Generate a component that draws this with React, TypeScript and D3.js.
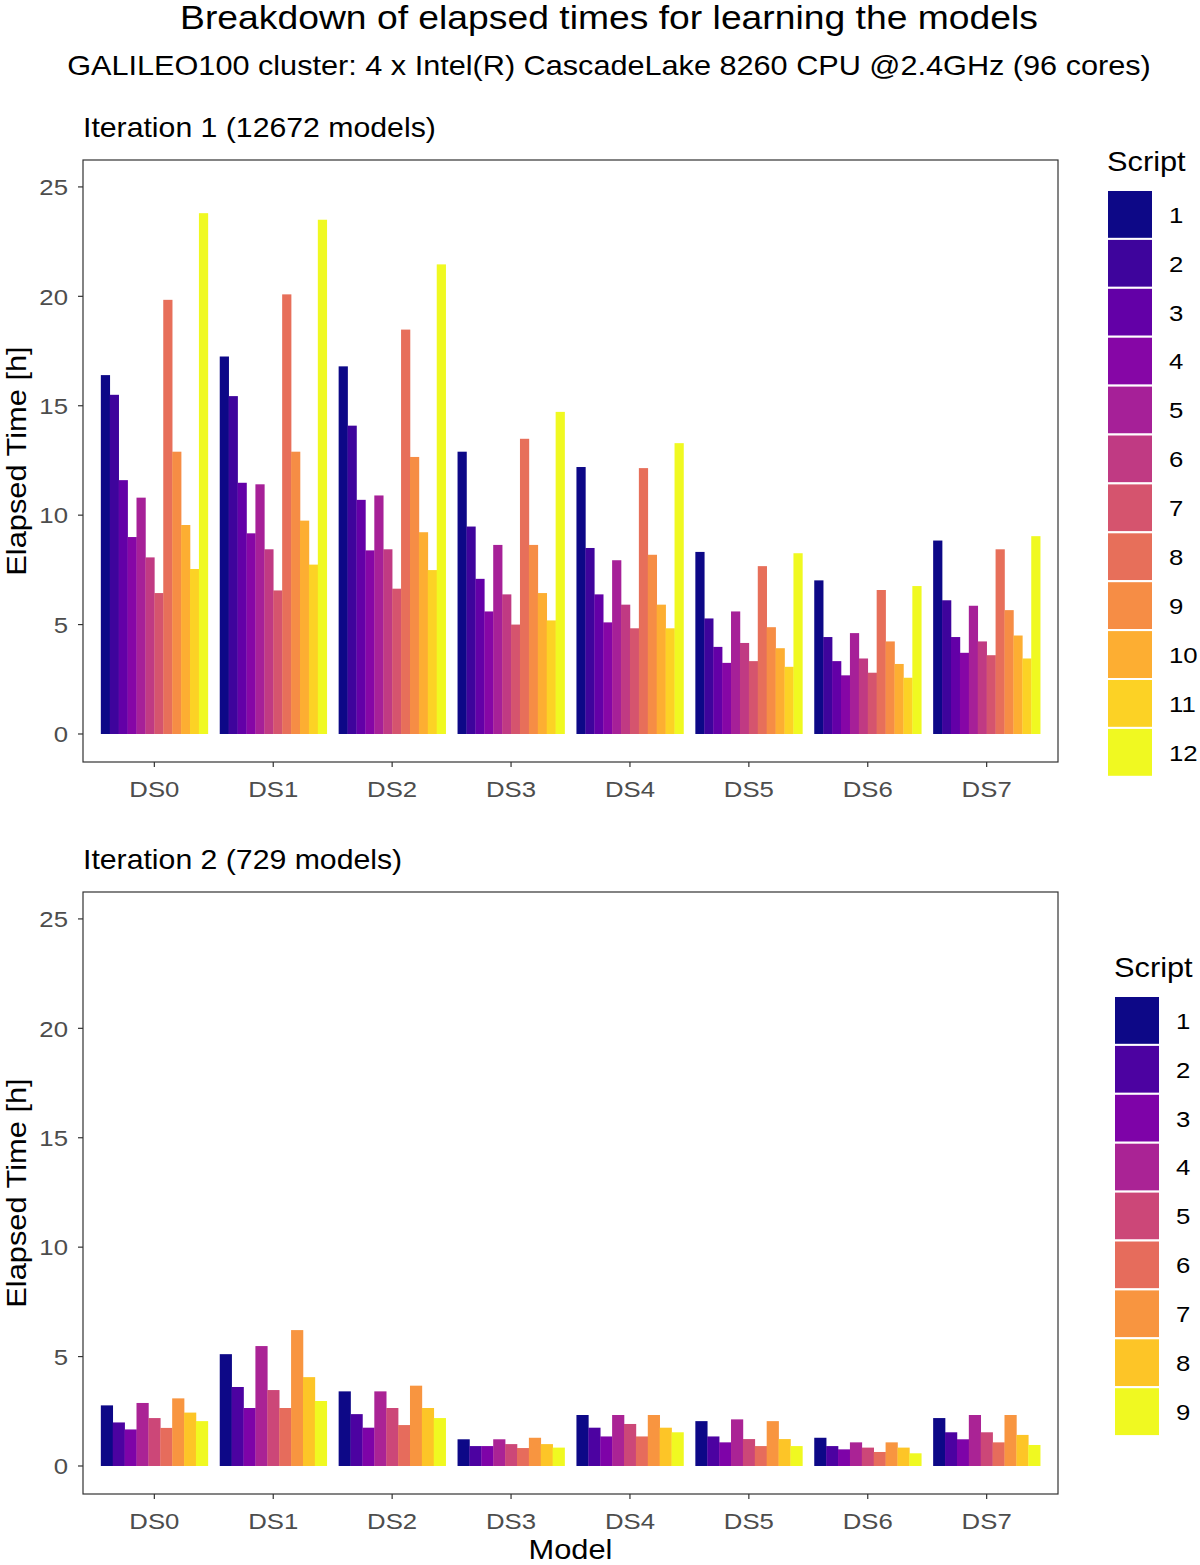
import React from 'react';
import * as d3 from 'd3';

const datasets = ['DS0', 'DS1', 'DS2', 'DS3', 'DS4', 'DS5', 'DS6', 'DS7'];

// Iteration 1: 12 scripts per dataset (hours)
const iter1Scripts = ['1', '2', '3', '4', '5', '6', '7', '8', '9', '10', '11', '12'];
const iter1DS0 = [16.4, 15.5, 11.6, 9.0, 10.8, 8.07, 6.44, 19.84, 12.9, 9.55, 7.54, 23.8];
const iter1DS1 = [17.25, 15.44, 11.48, 9.17, 11.41, 8.44, 6.56, 20.09, 12.9, 9.75, 7.74, 23.5];
const iter1DS2 = [16.8, 14.09, 10.7, 8.39, 10.9, 8.44, 6.64, 18.48, 12.66, 9.22, 7.49, 21.46];
const iter1DS3 = [12.9, 9.48, 7.09, 5.6, 8.64, 6.38, 5.0, 13.49, 8.64, 6.44, 5.19, 14.72];
const iter1DS4 = [12.2, 8.5, 6.38, 5.1, 7.94, 5.91, 4.83, 12.15, 8.19, 5.91, 4.83, 13.29];
const iter1DS5 = [8.32, 5.28, 3.98, 3.25, 5.6, 4.16, 3.33, 7.67, 4.88, 3.92, 3.07, 8.26];
const iter1DS6 = [7.02, 4.43, 3.33, 2.68, 4.61, 3.45, 2.8, 6.58, 4.23, 3.2, 2.57, 6.76];
const iter1DS7 = [8.84, 6.11, 4.43, 3.71, 5.86, 4.23, 3.6, 8.44, 5.66, 4.5, 3.45, 9.04];

// Iteration 2: 9 scripts per dataset (hours)
const iter2Scripts = ['1', '2', '3', '4', '5', '6', '7', '8', '9'];
const iter2DS0 = [2.77, 1.99, 1.67, 2.88, 2.19, 1.74, 3.09, 2.44, 2.05];
const iter2DS1 = [5.11, 3.61, 2.65, 5.48, 3.47, 2.65, 6.21, 4.06, 2.97];
const iter2DS2 = [3.41, 2.37, 1.75, 3.41, 2.65, 1.87, 3.67, 2.65, 2.19];
const iter2DS3 = [1.22, 0.91, 0.91, 1.22, 1.0, 0.82, 1.29, 1.0, 0.84];
const iter2DS4 = [2.33, 1.75, 1.35, 2.33, 1.92, 1.35, 2.33, 1.75, 1.54];
const iter2DS5 = [2.05, 1.35, 1.08, 2.13, 1.23, 0.91, 2.05, 1.23, 0.91];
const iter2DS6 = [1.29, 0.91, 0.76, 1.08, 0.84, 0.64, 1.08, 0.84, 0.58];
const iter2DS7 = [2.19, 1.54, 1.22, 2.33, 1.54, 1.08, 2.33, 1.42, 0.96];

const yTicks = [0, 5, 10, 15, 20, 25];

const iter1Values = [iter1DS0, iter1DS1, iter1DS2, iter1DS3, iter1DS4, iter1DS5, iter1DS6, iter1DS7];
const iter2Values = [iter2DS0, iter2DS1, iter2DS2, iter2DS3, iter2DS4, iter2DS5, iter2DS6, iter2DS7];

const FONT = '"Liberation Sans", Arial, Helvetica, sans-serif';
const SX = 1.12; // reference glyphs are a bit wider than Liberation Sans

// text that is stretched horizontally around its anchor point
const Txt: React.FC<{
  x: number; y: number; size: number; anchor?: string; fill?: string;
  rotate?: number; sx?: number; dy?: string; children: React.ReactNode;
}> = ({ x, y, size, anchor = 'start', fill = '#000', rotate = 0, sx = SX, dy, children }) => (
  <g transform={`translate(${x}, ${y}) rotate(${rotate}) scale(${sx}, 1)`}>
    <text textAnchor={anchor} fontSize={size} fill={fill} dy={dy}>{children}</text>
  </g>
);

interface PanelProps {
  top: number;
  title: string;
  scripts: string[];
  values: number[][];
  legendX: number;
  legendTitleY: number;
  legendKeysY: number;
  showXLabel?: boolean;
}

const Panel: React.FC<PanelProps> = ({ top, title, scripts, values, legendX, legendTitleY, legendKeysY, showXLabel }) => {
  const left = 83;
  const width = 975;
  const height = 602;

  const x = d3.scalePoint<string>().domain(datasets).range([0, width]).padding(0.6);
  const step = x.step();
  const groupW = step * 0.9;
  const inner = d3.scaleBand<string>().domain(scripts).range([0, groupW]);
  const y = d3.scaleLinear().domain([-1.28, 26.23]).range([height, 0]);
  const color = d3.scaleOrdinal<string, string>()
    .domain(scripts)
    .range(scripts.map((_, i) => d3.interpolatePlasma(i / (scripts.length - 1))));

  const keyH = 48.9;
  const keyW = 46;

  return (
    <g>
      <Txt x={left} y={top - 23} size={28} sx={1.08}>{title}</Txt>
      <g transform={`translate(${left}, ${top})`}>
        {/* Bars */}
        {values.map((row, gi) => (
          <g key={gi} transform={`translate(${(x(datasets[gi]) || 0) - groupW / 2}, 0)`}>
            {row.map((v, si) => (
              <rect
                key={si}
                x={inner(scripts[si])}
                y={y(v)}
                width={inner.bandwidth() + 0.3}
                height={y(0) - y(v)}
                fill={color(scripts[si])}
              />
            ))}
          </g>
        ))}

        {/* Panel border */}
        <rect x={0} y={0} width={width} height={height} fill="none" stroke="#333" strokeWidth={1.2} />

        {/* Y axis */}
        {yTicks.map(t => (
          <g key={t}>
            <line x1={-5} x2={0} y1={y(t)} y2={y(t)} stroke="#333" strokeWidth={1.2} />
            <Txt x={-15} y={y(t)} dy="0.36em" anchor="end" size={23} fill="#4D4D4D">{t}</Txt>
          </g>
        ))}

        {/* X axis */}
        {datasets.map(d => (
          <g key={d}>
            <line x1={x(d)} x2={x(d)} y1={height} y2={height + 5} stroke="#333" strokeWidth={1.2} />
            <Txt x={x(d) || 0} y={height + 35} anchor="middle" size={23} fill="#4D4D4D">{d}</Txt>
          </g>
        ))}

        <Txt x={-57} y={height / 2} rotate={-90} anchor="middle" size={28} sx={1.1}>
          Elapsed Time [h]
        </Txt>
        {showXLabel && (
          <Txt x={width / 2} y={height + 65} anchor="middle" size={28} sx={1.1}>Model</Txt>
        )}
      </g>

      {/* Legend */}
      <Txt x={legendX} y={legendTitleY} size={27} sx={1.14}>Script</Txt>
      {scripts.map((s, i) => (
        <g key={s} transform={`translate(${legendX}, ${legendKeysY + i * keyH})`}>
          <rect x={0} y={0} width={keyW} height={keyH} fill={color(s)} stroke="#fff" strokeWidth={2} />
          <Txt x={keyW + 16} y={keyH / 2} dy="0.36em" size={23}>{s}</Txt>
        </g>
      ))}
    </g>
  );
};

const App: React.FC = () => {
  return (
    <svg
      width={1200}
      height={1565}
      viewBox="0 0 1200 1565"
      style={{ position: 'absolute', left: 0, top: 0, background: '#fff', fontFamily: FONT }}
    >
      <rect width={1200} height={1565} fill="#fff" />
      <Txt x={609} y={29} anchor="middle" size={33} sx={1.13}>
        Breakdown of elapsed times for learning the models
      </Txt>
      <Txt x={609} y={75} anchor="middle" size={27} sx={1.135}>
        GALILEO100 cluster: 4 x Intel(R) CascadeLake 8260 CPU @2.4GHz (96 cores)
      </Txt>
      <Panel
        top={160}
        title="Iteration 1 (12672 models)"
        scripts={iter1Scripts}
        values={iter1Values}
        legendX={1107}
        legendTitleY={171}
        legendKeysY={190}
      />
      <Panel
        top={892}
        title="Iteration 2 (729 models)"
        scripts={iter2Scripts}
        values={iter2Values}
        legendX={1114}
        legendTitleY={977}
        legendKeysY={996}
        showXLabel
      />
    </svg>
  );
};

export default App;
